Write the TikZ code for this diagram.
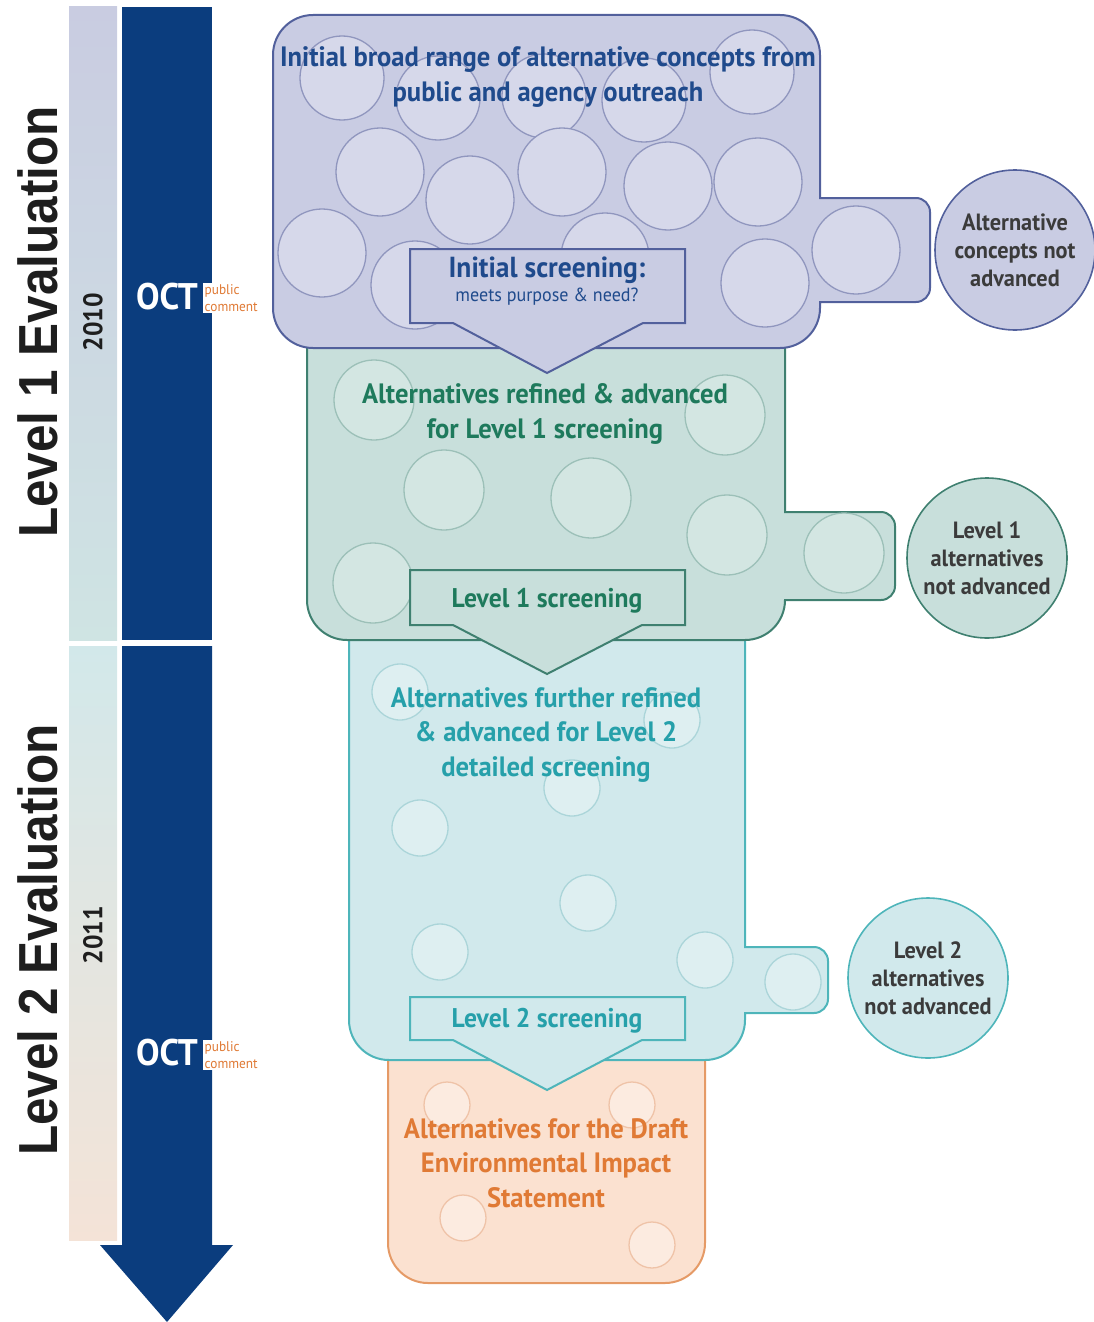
\documentclass[tikz,border=0pt]{standalone}
\usepackage{fontspec}
\setmainfont[FakeStretch=0.95]{PT Sans}
\newfontfamily\evalfont[FakeStretch=0.9]{Liberation Sans}

\definecolor{navy}{HTML}{0B3D7E}
\definecolor{barA}{HTML}{C9CCE1}
\definecolor{barB}{HTML}{CFE4E3}
\definecolor{barC}{HTML}{D2E8EA}
\definecolor{barD}{HTML}{F4E3D7}
\definecolor{lav}{HTML}{C9CCE3}
\definecolor{lavlt}{HTML}{D6D8EA}
\definecolor{lavln}{HTML}{9096BE}
\definecolor{lavdk}{HTML}{52609C}
\definecolor{lavtx}{HTML}{1F4A8C}
\definecolor{grn}{HTML}{C8DFDB}
\definecolor{grnlt}{HTML}{D3E6E2}
\definecolor{grnln}{HTML}{9CC0B8}
\definecolor{grndk}{HTML}{3F8070}
\definecolor{grntx}{HTML}{1E7A5C}
\definecolor{aqua}{HTML}{D1E9EC}
\definecolor{aqualt}{HTML}{DEEFF1}
\definecolor{aqualn}{HTML}{ABD5D9}
\definecolor{aquadk}{HTML}{4EB5BA}
\definecolor{aquatx}{HTML}{26A0AA}
\definecolor{peach}{HTML}{FBE1D0}
\definecolor{peachlt}{HTML}{FCEBE0}
\definecolor{peachln}{HTML}{EFC3A8}
\definecolor{peachdk}{HTML}{E59A66}
\definecolor{peachtx}{HTML}{E07A35}
\definecolor{inktx}{HTML}{3B3B3B}
\definecolor{evaltx}{HTML}{1E1E1E}

\begin{document}
\begin{tikzpicture}[x=1pt,y=1pt,
	bubA/.style={fill=lavlt,draw=lavln,line width=1.3pt},
	bubB/.style={fill=grnlt,draw=grnln,line width=1.3pt},
	bubC/.style={fill=aqualt,draw=aqualn,line width=1.3pt},
	bubD/.style={fill=peachlt,draw=peachln,line width=1.3pt},
	notadv/.style={circle,minimum size=160pt,inner sep=0pt,align=center,line width=1.6pt,
		text=inktx,font=\bfseries\fontsize{23.5}{28}\selectfont},
	boxtext/.style={align=center,font=\bfseries\fontsize{28}{34.5}\selectfont},
	scrtext/.style={font=\bfseries\fontsize{27}{27}\selectfont},
	evaltext/.style={rotate=90,text=evaltx,font=\evalfont\bfseries\fontsize{55}{60}\selectfont},
	yeartext/.style={rotate=90,text=evaltx,font=\bfseries\fontsize{27}{27}\selectfont},
	octtext/.style={text=white,inner sep=1pt,font=\bfseries\fontsize{37}{37}\selectfont},
	pubtext/.style={fill=white,inner sep=1.5pt,anchor=west,align=left,text=peachtx,font=\fontsize{14}{17}\selectfont}]
\useasboundingbox (0,0) rectangle (1094,-1322);

% time line
\shade[top color=barA,bottom color=barB] (69,-7) rectangle (117,-640);
\shade[top color=barC,bottom color=barD] (69,-646) rectangle (117,-1240);
\fill[navy] (122,-7) rectangle (212,-640);
\fill[navy] (122,-646) -- (212,-646) -- (212,-1245) -- (233,-1245) -- (167,-1322) -- (100,-1245) -- (122,-1245) -- cycle;

\node[evaltext] (evalA) at (38,-322) {Level 1 Evaluation};
\node[evaltext] (evalB) at (38,-940) {Level 2 Evaluation};
\node[yeartext] (yearA) at (93,-322) {2010};
\node[yeartext] (yearB) at (93,-935) {2011};
\node[octtext] (octA) at (167,-297) {OCT};
\node[pubtext] (pubA) at (203,-298) {public\\comment};
\node[octtext] (octB) at (167,-1053) {OCT};
\node[pubtext] (pubB) at (203,-1055) {public\\comment};

% draft EIS box
\filldraw[fill=peach,draw=peachdk,line width=2pt] (388,-1040) -- (388,-1243) arc[start angle=180,end angle=270,radius=40]
	-- (665,-1283) arc[start angle=270,end angle=360,radius=40] -- (705,-1040);
\foreach \cx/\cy in {447/-1105,632/-1105,463/-1218,652/-1245}
	\draw[bubD] (\cx,\cy) circle[radius=23];
\node[boxtext,text=peachtx] (draft) at (546,-1163) {Alternatives for the Draft\\Environmental Impact\\Statement};

% level 2 box
\filldraw[fill=aqua,draw=aquadk,line width=2pt] (349,-620) -- (349,-1020) arc[start angle=180,end angle=270,radius=40]
	-- (705,-1060) arc[start angle=270,end angle=360,radius=40] -- (745,-1013) -- (814,-1013)
	arc[start angle=270,end angle=360,radius=14] -- (828,-961) arc[start angle=0,end angle=90,radius=14]
	-- (745,-947) -- (745,-620);
\foreach \cx/\cy in {400/-692,672/-720,572/-788,420/-828,588/-903,440/-952,705/-960,793/-982}
	\draw[bubC] (\cx,\cy) circle[radius=28];
\node[boxtext,text=aquatx] (further) at (546,-735) {Alternatives further refined\\\& advanced for Level 2\\detailed screening};
\filldraw[fill=aqua,draw=aquadk,line width=2pt] (410,-997) -- (685,-997) -- (685,-1040) -- (642,-1040)
	-- (547,-1090) -- (453,-1040) -- (410,-1040) -- cycle;
\node[scrtext,text=aquatx] (scrC) at (547,-1021) {Level 2 screening};

% level 1 box
\filldraw[fill=grn,draw=grndk,line width=2pt] (307,-320) -- (307,-600) arc[start angle=180,end angle=270,radius=40]
	-- (745,-640) arc[start angle=270,end angle=360,radius=40] -- (881,-600)
	arc[start angle=270,end angle=360,radius=14] -- (895,-526) arc[start angle=0,end angle=90,radius=14]
	-- (785,-512) -- (785,-320);
\foreach \cx/\cy in {374/-400,725/-415,444/-490,591/-498,727/-535,373/-583,844/-553}
	\draw[bubB] (\cx,\cy) circle[radius=40];
\node[boxtext,text=grntx] (refined) at (545,-414) {Alternatives refined \& advanced\\for Level 1 screening};
\filldraw[fill=grn,draw=grndk,line width=2pt] (410,-570) -- (685,-570) -- (685,-625) -- (642,-625)
	-- (547,-674) -- (453,-625) -- (410,-625) -- cycle;
\node[scrtext,text=grntx] (scrB) at (547,-601) {Level 1 screening};

% initial box
\filldraw[fill=lav,draw=lavdk,line width=2pt] (273,-308) -- (273,-55) arc[start angle=180,end angle=90,radius=40]
	-- (780,-15) arc[start angle=90,end angle=0,radius=40] -- (820,-198) -- (916,-198)
	arc[start angle=90,end angle=0,radius=14] -- (930,-288) arc[start angle=0,end angle=-90,radius=14]
	-- (820,-302) -- (820,-308) arc[start angle=0,end angle=-90,radius=40] -- (313,-348)
	arc[start angle=270,end angle=180,radius=40] -- cycle;
\foreach \cx/\cy/\r in {342/-78/42,438/-98/42,544/-96/42,644/-100/42,752/-72/42,
	380/-172/44,470/-200/44,562/-172/44,668/-186/44,758/-182/44,
	322/-253/44,415/-285/44,605/-257/44,765/-283/44,856/-250/44}
	\draw[bubA] (\cx,\cy) circle[radius=\r];
\node[boxtext,text=lavtx] (initial) at (548,-77) {Initial broad range of alternative concepts from\\public and agency outreach};
\filldraw[fill=lav,draw=lavdk,line width=2pt] (410,-249) -- (685,-249) -- (685,-323) -- (643,-323)
	-- (547,-373) -- (453,-323) -- (410,-323) -- cycle;
\node[scrtext,text=lavtx,font=\bfseries\fontsize{29}{29}\selectfont] (scrA) at (547,-270) {Initial screening:};
\node[text=lavtx,font=\fontsize{19}{19}\selectfont] (scrAsub) at (547,-297) {meets purpose \& need?};

% not advanced
\node[notadv,fill=lav,draw=lavdk] (dropA) at (1015,-250) {Alternative\\concepts not\\advanced};
\node[notadv,fill=grn,draw=grndk] (dropB) at (987,-558) {Level 1\\alternatives\\not advanced};
\node[notadv,fill=aqua,draw=aquadk] (dropC) at (928,-978) {Level 2\\alternatives\\not advanced};
\end{tikzpicture}
\end{document}
